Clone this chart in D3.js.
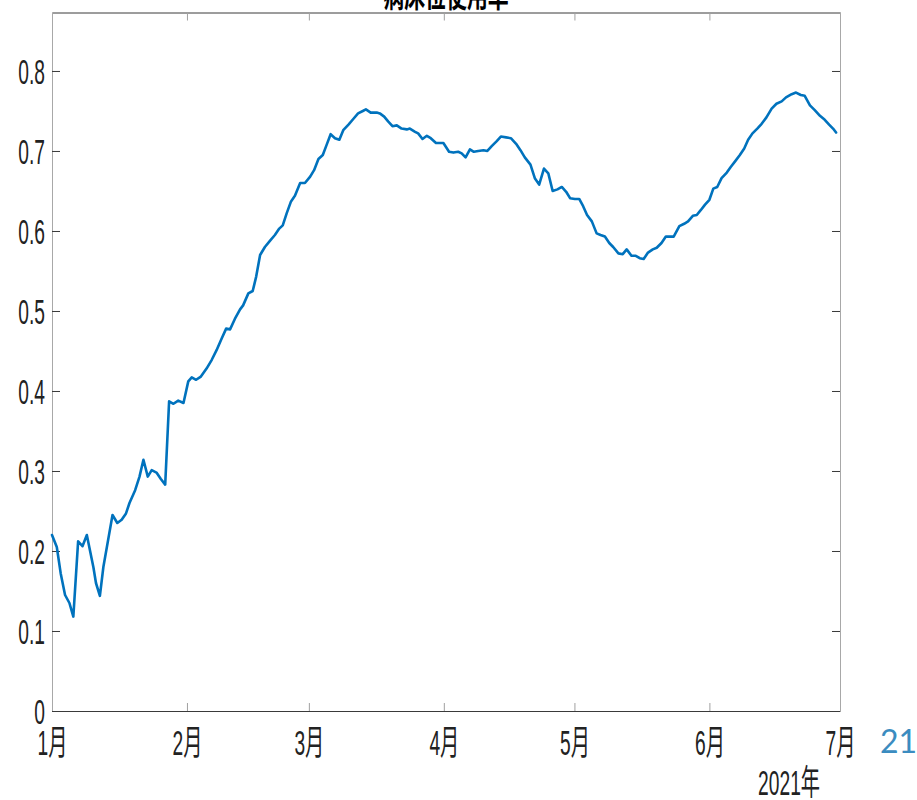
<!DOCTYPE html>
<html><head><meta charset="utf-8">
<script src="https://cdn.jsdelivr.net/npm/d3@7/dist/d3.min.js"></script>
<style>
html,body{margin:0;padding:0;background:#fff;}
svg{display:block;}
</style>
</head><body>
<svg id="chart" width="917" height="800"></svg>
<script>
// ---- data ----
const chartTitle = "病床位使用率";
const yearLabel = "2021年";
const pageNumber = "21";
const monthLabels = ["1月","2月","3月","4月","5月","6月","7月"];
const monthIndex = [0,1,2,3,4,5,6];
const yTickValues = [0,0.1,0.2,0.3,0.4,0.5,0.6,0.7,0.8];
// days since 2021-01-01
const dayOffset = [0.0,1.1,2.0,3.0,4.0,4.9,6.0,7.0,8.0,9.5,10.1,11.0,11.8,12.9,13.9,15.0,16.0,17.0,17.8,19.1,20.1,21.0,22.0,22.9,24.0,25.0,26.0,26.9,27.9,29.0,30.2,31.3,32.1,33.1,34.2,35.5,36.7,37.8,39.0,40.0,40.9,42.0,43.2,43.9,45.1,46.1,46.9,47.8,48.9,50.1,51.2,52.2,53.0,53.9,54.9,55.8,57.0,58.1,59.3,60.2,61.2,62.2,63.1,64.0,65.0,66.0,66.9,68.1,69.2,70.3,71.4,72.1,73.2,74.6,75.3,76.3,77.2,78.2,79.2,80.3,81.5,82.2,83.4,84.1,85.1,86.1,87.0,88.2,89.9,91.2,92.2,93.3,94.1,95.0,96.0,96.9,97.9,99.1,100.0,101.0,102.1,103.1,104.3,105.4,106.6,107.6,108.6,109.9,110.9,111.9,113.0,114.0,115.0,116.1,117.1,118.1,119.0,120.1,121.1,122.0,122.9,124.0,125.1,126.0,127.0,128.0,128.9,130.1,131.1,132.0,133.1,134.1,135.0,135.9,136.9,138.0,138.9,140.0,141.0,141.9,142.8,144.1,145.2,146.1,147.2,148.1,149.0,150.0,151.0,151.9,152.8,153.8,155.0,155.9,156.9,158.0,159.0,159.9,160.9,162.0,163.0,164.1,165.3,166.4,167.6,168.6,169.9,170.9,172.0,172.9,174.1,175.2,176.4,177.5,178.5,179.4,180.1];
const rate = [0.22,0.205,0.172,0.145,0.135,0.118,0.212,0.206,0.22,0.18,0.16,0.144,0.18,0.214,0.245,0.235,0.239,0.247,0.26,0.276,0.293,0.314,0.293,0.301,0.298,0.29,0.283,0.387,0.384,0.388,0.385,0.412,0.417,0.414,0.418,0.428,0.439,0.451,0.466,0.478,0.477,0.49,0.502,0.507,0.522,0.525,0.543,0.57,0.58,0.588,0.595,0.603,0.607,0.622,0.637,0.644,0.66,0.66,0.668,0.676,0.69,0.695,0.708,0.721,0.716,0.714,0.726,0.733,0.74,0.747,0.75,0.752,0.748,0.748,0.747,0.743,0.737,0.731,0.732,0.728,0.727,0.728,0.724,0.722,0.715,0.719,0.716,0.71,0.71,0.699,0.698,0.699,0.697,0.692,0.702,0.699,0.7,0.701,0.7,0.706,0.712,0.718,0.717,0.716,0.709,0.701,0.692,0.683,0.666,0.658,0.678,0.672,0.65,0.652,0.655,0.649,0.641,0.64,0.64,0.631,0.62,0.612,0.597,0.595,0.593,0.585,0.58,0.572,0.571,0.577,0.569,0.569,0.566,0.565,0.573,0.577,0.579,0.585,0.593,0.593,0.593,0.606,0.609,0.612,0.619,0.62,0.626,0.633,0.639,0.653,0.655,0.666,0.673,0.68,0.687,0.695,0.703,0.714,0.722,0.728,0.734,0.742,0.753,0.759,0.762,0.767,0.771,0.773,0.77,0.769,0.757,0.751,0.744,0.739,0.733,0.728,0.723];

// ---- layout ----
const L = 52, R = 840, T = 12.5, B = 711;
const startDate = new Date(2021,0,1);
const endDate = new Date(2021,6,1);
const DAY = 86400000;
const sx = 0.8, sy = 1.45, fs = 24;

const svg = d3.select("#chart");
const x = d3.scaleTime().domain([startDate, endDate]).range([L, R]);
const y = d3.scaleLinear().domain([0, 0.8731]).range([B, T]);

const monthDates = monthIndex.map(m => new Date(2021, m, 1));
const monthFmt = new Map(monthDates.map((d,i)=>[+d, monthLabels[i]]));

// title (partly cut off at the top)
svg.append("text")
  .attr("transform", `translate(${(L+R)/2},6.5) scale(0.95,${sy})`)
  .attr("text-anchor","middle")
  .attr("font-family","'Noto Sans CJK SC', sans-serif")
  .attr("font-weight","bold")
  .attr("font-size",22)
  .attr("fill","#000")
  .text(chartTitle);

function styleAxis(g, vertical) {
  g.select(".domain").attr("stroke", vertical ? "#a8a8a8" : "#3a3a3a").attr("stroke-width",1);
  g.selectAll(".tick line").attr("stroke", vertical ? "#3a3a3a" : "#a0a0a0").attr("stroke-width",1);
}

// bottom axis
const gx = svg.append("g").attr("transform",`translate(0,${B})`)
  .call(d3.axisBottom(x).tickValues(monthDates).tickFormat(d=>monthFmt.get(+d))
        .tickSizeInner(-8).tickSizeOuter(0));
styleAxis(gx, false);
gx.selectAll(".tick text")
  .attr("font-family","'Liberation Sans', Arial, 'Noto Sans CJK SC', sans-serif")
  .attr("font-size",fs).attr("fill","#222")
  .attr("y", 44/sy).attr("dy",0)
  .attr("transform",`scale(${sx},${sy})`);

// top axis (ticks only)
const gt = svg.append("g").attr("transform",`translate(0,${T})`)
  .call(d3.axisTop(x).tickValues(monthDates).tickFormat("")
        .tickSizeInner(-8).tickSizeOuter(0));
styleAxis(gt, false);

// left axis
const gy = svg.append("g").attr("transform",`translate(${L},0)`)
  .call(d3.axisLeft(y).tickValues(yTickValues).tickFormat(d=>d===0?"0":d3.format(".1f")(d))
        .tickSizeInner(-8).tickSizeOuter(0));
styleAxis(gy, true);
gy.selectAll(".tick text")
  .attr("font-family","'Liberation Sans', Arial, sans-serif")
  .attr("font-size",fs).attr("fill","#222")
  .attr("x", -7/sx).attr("dy","0.35em")
  .attr("transform",`scale(${sx},${sy})`);

// right axis (ticks only)
const gr = svg.append("g").attr("transform",`translate(${R},0)`)
  .call(d3.axisRight(y).tickValues(yTickValues).tickFormat("")
        .tickSizeInner(-8).tickSizeOuter(0));
styleAxis(gr, true);

// line
const pts = dayOffset.map((d,i)=>({date:new Date(+startDate + d*DAY), v:rate[i]}));
svg.append("path").datum(pts)
  .attr("fill","none").attr("stroke","#0072BD").attr("stroke-width",2.6)
  .attr("stroke-linejoin","round").attr("stroke-linecap","round")
  .attr("d", d3.line().x(p=>x(p.date)).y(p=>y(p.v)));

// year label
svg.append("text")
  .attr("transform",`translate(820,795) scale(${sx},${sy})`)
  .attr("text-anchor","end")
  .attr("font-family","'Liberation Sans', Arial, 'Noto Sans CJK SC', sans-serif")
  .attr("font-size",fs).attr("fill","#222")
  .text(yearLabel);

// page number
svg.append("text")
  .attr("x",880).attr("y",753)
  .attr("font-family","Lato, 'Open Sans', sans-serif")
  .attr("font-size",32).attr("fill","#3b8cc0")
  .text(pageNumber);
</script>
</body></html>
